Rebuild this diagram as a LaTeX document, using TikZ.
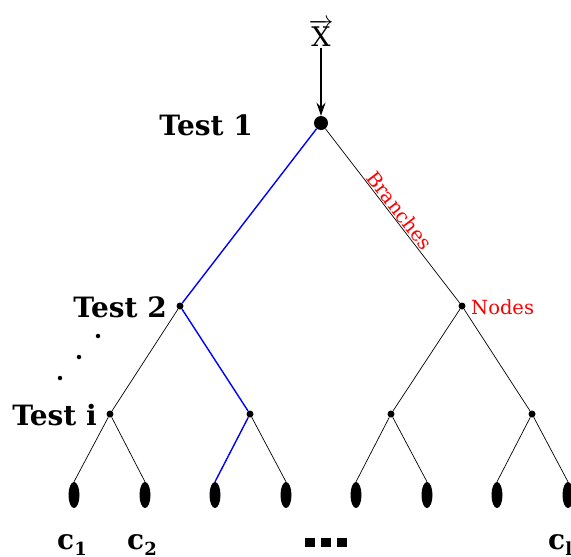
\documentclass[tikz,border=0pt]{standalone}
\usepackage{fontspec}
\setmainfont{DejaVu Serif}
\usetikzlibrary{arrows.meta,shapes.geometric}
\begin{document}
\begin{tikzpicture}[x=1pt,y=-1pt,
  big/.style={circle,fill=black,inner sep=0pt,minimum size=14pt},
  dot/.style={circle,fill=black,inner sep=0pt,minimum size=7pt},
  leaf/.style={ellipse,fill=black,inner sep=0pt,minimum width=11pt,minimum height=26pt},
  edge/.style={line width=0.7pt},
  blue edge/.style={line width=1.4pt,blue},
  testlab/.style={font=\bfseries\fontsize{28}{32}\selectfont},
  clab/.style={font=\bfseries\fontsize{28}{32}\selectfont},
  red lab/.style={text=red,font=\fontsize{19.5}{22}\selectfont}]
\useasboundingbox (0,0) rectangle (571,557);
% nodes
\node[big] (r) at (321,123) {};
\node[dot] (a) at (180,306) {};
\node[dot] (b) at (462,306) {};
\node[dot] (a1) at (110,414) {};
\node[dot] (a2) at (250,414) {};
\node[dot] (b1) at (391,414) {};
\node[dot] (b2) at (532,414) {};
\foreach \n/\x in {1/74,2/145,3/215,4/286,5/356,6/427,7/497,8/568}
  \node[leaf] (l\n) at (\x,495) {};
% input
\node[inner sep=1pt] (x) at (321,33) {\fontsize{27}{30}\selectfont$\overrightarrow{\mathrm{X}}$};
\draw[line width=1.6pt,-{Stealth[length=13pt,width=9pt]}] (x.south) -- (r.north);
% edges
\draw[blue edge] (r) -- (a);
\draw[edge] (r) -- (b) node[pos=0.5,sloped,above,red lab,inner sep=1pt] {Branches};
\draw[edge] (a) -- (a1);
\draw[blue edge] (a) -- (a2);
\draw[edge] (b) -- (b1);
\draw[edge] (b) -- (b2);
\draw[edge] (a1) -- (l1.north);
\draw[edge] (a1) -- (l2.north);
\draw[blue edge] (a2) -- (l3.north);
\draw[edge] (a2) -- (l4.north);
\draw[edge] (b1) -- (l5.north);
\draw[edge] (b1) -- (l6.north);
\draw[edge] (b2) -- (l7.north);
\draw[edge] (b2) -- (l8.north);
% labels
\node[testlab,anchor=east,inner sep=0pt] (t1) at (253,125) {Test 1};
\node[testlab,anchor=east,inner sep=0pt] (t2) at (167,307) {Test 2};
\node[testlab,anchor=east,inner sep=0pt] (ti) at (97,415) {Test i};
\node[red lab,anchor=west,inner sep=0pt] (nl) at (471,307) {Nodes};
\foreach \n/\x/\y in {1/98/336,2/79/357,3/60/378}
  \node[circle,fill=black,inner sep=0pt,minimum size=4.5pt] (d\n) at (\x,\y) {};
\node[clab] (c1) at (72,545) {c\raisebox{-0.35ex}{\fontsize{18}{20}\selectfont 1}};
\node[clab] (c2) at (142,545) {c\raisebox{-0.35ex}{\fontsize{18}{20}\selectfont 2}};
\node[clab,anchor=west,inner sep=0pt] (cl) at (548,545) {c\raisebox{-0.35ex}{\fontsize{18}{20}\selectfont l}};
\foreach \n/\x in {1/310,2/326,3/342}
  \node[rectangle,fill=black,inner sep=0pt,minimum width=10pt,minimum height=9pt] (s\n) at (\x,542) {};
\end{tikzpicture}
\end{document}
